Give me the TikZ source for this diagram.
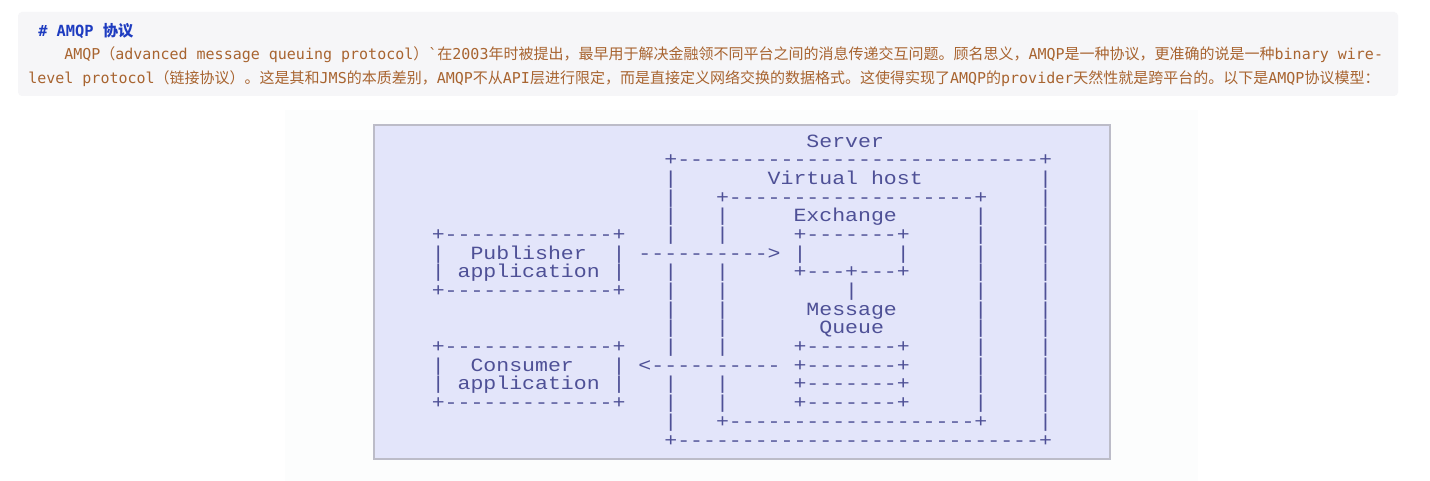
\documentclass[tikz,border=0pt]{standalone}
\usepackage{xcolor}
\usepackage{fontspec}
\usepackage{tikz}
\newfontfamily\cjk{Noto Sans CJK SC}
\newfontfamily\mdfont[Ligatures=TeXOff]{DejaVu Sans Mono}
\newfontfamily\asciifont[FakeStretch=1.1536,Ligatures=TeXOff]{Liberation Mono}
\newcommand\zh[1]{{\cjk #1}}
\definecolor{notebg}{HTML}{F6F6F8}
\definecolor{headblue}{HTML}{1E3CC0}
\definecolor{parabrown}{HTML}{A86430}
\definecolor{imgbg}{HTML}{FCFDFD}
\definecolor{lavender}{HTML}{E3E5FA}
\definecolor{imgframe}{HTML}{BCBCC8}
\definecolor{asciiink}{HTML}{4E5096}

\begin{document}
\begin{tikzpicture}[x=0.75pt,y=-0.75pt,
    md/.style={anchor=base west,inner sep=0pt,text=parabrown,font=\mdfont\fontsize{11.25pt}{14pt}\selectfont},
    asc/.style={anchor=base west,inner sep=0pt,text=asciiink,font=\asciifont\fontsize{14pt}{14pt}\selectfont}]
  \useasboundingbox (0,0) rectangle (1430,481);
  \fill[white] (0,0) rectangle (1430,481);
  \fill[notebg,rounded corners=3pt] (18,12) rectangle (1398,96);
  \node[md,text=headblue,font=\mdfont\bfseries\fontsize{11.5pt}{14pt}\selectfont] (title) at (38,36.5) {\# AMQP \zh{协议}};
  \node[md] (line1) at (64,59.5) {AMQP\zh{（}advanced message queuing protocol\zh{）}`\zh{在}2003\zh{年时被提出，最早用于解决金融领不同平台之间的消息传递交互问题。顾名思义，}AMQP\zh{是一种协议，更准确的说是一种}binary wire-};
  \node[md] (line2) at (28,83.5) {level protocol\zh{（链接协议）。这是其和}JMS\zh{的本质差别，}AMQP\zh{不从}API\zh{层进行限定，而是直接定义网络交换的数据格式。这使得实现了}AMQP\zh{的}provider\zh{天然性就是跨平台的。以下是}AMQP\zh{协议模型：}};
  \fill[imgbg] (285,110) rectangle (1198,481);
  \draw[fill=lavender,draw=imgframe,line width=1.5] (374,125) rectangle (1110,459);
  \begin{scope}[shift={(431.5,147)},x=9.69pt,y=-14.0175pt]
    \foreach \n/\c/\r/\t in {
       srvtop/18/1/{+----------------------------+},
       vhtop/22/3/{+-------------------+},
       extop/28/5/{+-------+},
       pubtop/0/5/{+-------------+},
       exbot/28/7/{+---+---+},
       pubbot/0/8/{+-------------+},
       q1/28/11/{+-------+},
       contop/0/11/{+-------------+},
       q2/28/12/{+-------+},
       q3/28/13/{+-------+},
       q4/28/14/{+-------+},
       conbot/0/14/{+-------------+},
       vhbot/22/15/{+-------------------+},
       srvbot/18/16/{+----------------------------+},
       srvlab/29/0/Server, vhlab/26/2/{Virtual host}, exlab/28/4/Exchange,
       publab/3/6/Publisher, pubapp/2/7/application,
       msglab/29/9/Message, qlab/30/10/Queue,
       conlab/3/12/Consumer, conapp/2/13/application,
       pubarrow/16/6/{---------->}, conarrow/16/12/{<----------}}
    { \node[asc] (\n) at (\c,\r) {\t}; }
    \foreach \c/\rows in {18/{2,3,4,5,7,8,9,10,11,13,14,15}, 47/{2,...,15},
       22/{4,5,7,8,9,10,11,13,14}, 42/{4,...,14}, 28/{6}, 36/{6}, 32/{8},
       0/{6,7,12,13}, 14/{6,7,12,13}}
    { \foreach \r in \rows { \node[asc] (bar-\c-\r) at (\c,\r) {|}; } }
  \end{scope}
\end{tikzpicture}
\end{document}
